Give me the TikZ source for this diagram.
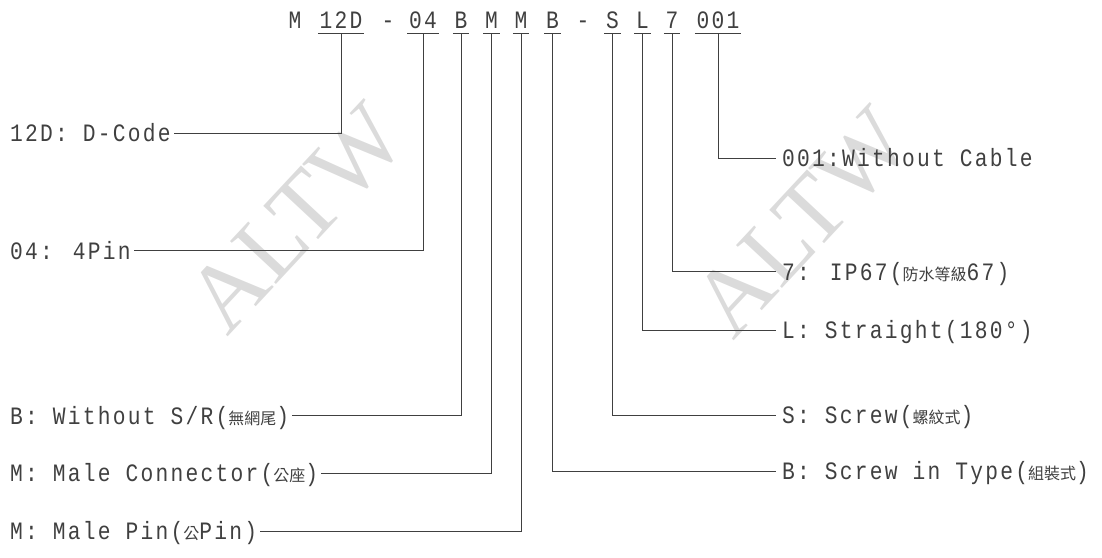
\documentclass[tikz,border=0pt]{standalone}
\usepackage{fontspec}
\newfontfamily\codefont[FakeStretch=0.85,LetterSpace=9]{Liberation Mono}
\newfontfamily\cjk{Noto Sans CJK TC}
\newfontfamily\wmfont{Liberation Serif}
\newcommand\cj[1]{{\cjk\fontsize{16}{16}\selectfont #1}}
\tikzset{
  seg/.style={font=\codefont\fontsize{25}{25}\selectfont, text=black!75, inner sep=0pt, text height=15pt, text depth=5pt, anchor=base},
  lab/.style={font=\codefont\fontsize{25}{25}\selectfont, text=black!75, inner ysep=0pt, inner xsep=3pt, text height=17pt, text depth=0pt, anchor=west},
  rlab/.style={lab, inner xsep=6pt},
  conn/.style={line width=1pt, draw=black!75},
  uline/.style={line width=1pt, draw=black!75},
  wm/.style={font=\wmfont\fontsize{96}{96}\selectfont, text=black!14, rotate=47, inner sep=0pt}
}
\begin{document}
\begin{tikzpicture}[x=1pt,y=-1pt]
\useasboundingbox (0,0) rectangle (1102,557);
% watermarks
\node[wm] (wm1) at (296,218) {ALTW};
\node[wm] (wm2) at (802,222) {ALTW};
% top code
\node[seg] (sM)   at (295,28.5) {M};
\node[seg] (s12D) at (341,28.5) {12D};
\node[seg] (sd1)  at (388,28.5) {-};
\node[seg] (s04)  at (423,28.5) {04};
\node[seg] (sB1)  at (461,28.5) {B};
\node[seg] (sM1)  at (491.5,28.5) {M};
\node[seg] (sM2)  at (521,28.5) {M};
\node[seg] (sB2)  at (552.5,28.5) {B};
\node[seg] (sd2)  at (583,28.5) {-};
\node[seg] (sS)   at (612.5,28.5) {S};
\node[seg] (sL)   at (642.5,28.5) {L};
\node[seg] (s7)   at (672,28.5) {7};
\node[seg] (s001) at (718,28.5) {001};
\foreach \s in {s12D,s04,sB1,sM1,sM2,sB2,sS,sL,s7,s001}
  \draw[uline] ([xshift=-1.5pt]\s.south west) -- ([xshift=1.5pt]\s.south east);
% left labels
\node[lab] (l12D) at (7,133.3) {12D: D-Code};
\node[lab] (l04)  at (7,250.7) {04: 4Pin};
\node[lab] (lB)   at (7,415.7) {B: Without S/R(\cj{無網尾})};
\node[lab] (lM1)  at (7,473)   {M: Male Connector(\cj{公座})};
\node[lab] (lM2)  at (7,531)   {M: Male Pin(\cj{公}Pin)};
% right labels
\node[rlab] (r001) at (776,158.3) {001:Without Cable};
\node[rlab] (r7)   at (776,271.7) {7: IP67(\cj{防水等級}67)};
\node[rlab] (rL)   at (776,330)   {L: Straight(180°)};
\node[rlab] (rS)   at (776,415)   {S: Screw(\cj{螺紋式})};
\node[rlab] (rB)   at (776,471)   {B: Screw in Type(\cj{組裝式})};
% connectors
\draw[conn] (s12D.south) |- (l12D.east);
\draw[conn] (s04.south)  |- (l04.east);
\draw[conn] (sB1.south)  |- (lB.east);
\draw[conn] (sM1.south)  |- (lM1.east);
\draw[conn] (sM2.south)  |- (lM2.east);
\draw[conn] (sB2.south)  |- (rB.west);
\draw[conn] (sS.south)   |- (rS.west);
\draw[conn] (sL.south)   |- (rL.west);
\draw[conn] (s7.south)   |- (r7.west);
\draw[conn] (s001.south) |- (r001.west);
\end{tikzpicture}
\end{document}
